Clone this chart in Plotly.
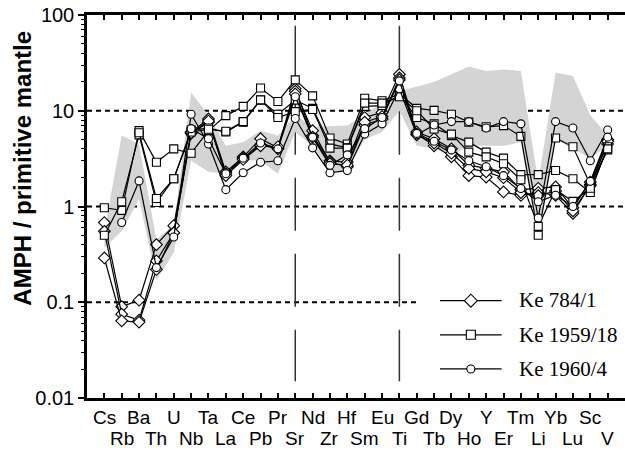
import plotly.graph_objects as go

elements = ["Cs", "Rb", "Ba", "Th", "U", "Nb", "Ta", "La", "Ce", "Pb", "Pr", "Sr", "Nd", "Zr", "Hf",
            "Sm", "Eu", "Ti", "Gd", "Tb", "Dy", "Ho", "Y", "Er", "Tm", "Li", "Yb", "Lu", "Sc", "V"]

# grey field (envelope)
field_upper = [0.55, 5.5, 4.5, 0.45, 0.65, 15.5, 9.0, 4.3, 4.7, 6.2, 5.5, 9.0, 6.8, 6.9, 7.0,
               9.2, 12.0, 16.0, 18.0, 20.0, 24.0, 29.0, 26.0, 27.0, 26.0, 1.8, 25.0, 23.0, 9.0, 5.5]
field_lower = [0.37, 0.55, 1.2, 0.17, 0.33, 3.0, 2.3, 2.2, 3.1, 3.0, 2.2, 6.0, 4.3, 2.3, 2.4,
               5.0, 6.0, 10.0, 4.3, 4.0, 3.4, 4.3, 4.3, 4.3, 4.7, 0.43, 5.0, 4.0, 3.2, 4.3]

# Ke 784/1 (diamonds)
ke784_a = [0.68, 0.09, 0.105, 0.40, 0.63, 6.0, 8.2, 2.3, 3.3, 5.1, 4.1, 17, 5.5, 3.0, 2.9,
           8.5, 9.6, 24, 6.0, 5.1, 4.0, 2.7, 2.5, 2.3, 1.5, 1.55, 1.6, 0.97, 1.8, 5.0]
ke784_b = [0.55, 0.075, 0.065, 0.27, 0.53, 5.8, 7.6, 2.2, 3.2, 4.4, 4.0, 16, 6.2, 2.9, 2.6,
           7.1, 8.2, 22, 5.7, 4.3, 3.3, 2.1, 2.03, 1.42, 1.31, 1.4, 1.31, 0.85, 1.7, 4.5]
ke784_c = [0.29, 0.064, 0.062, 0.22, 0.53, 5.9, 7.8, 2.1, 3.1, 4.3, 4.2, 15, 5.3, 2.8, 2.7,
           7.6, 8.7, 21, 5.6, 4.6, 3.6, 2.5, 2.3, 2.0, 1.4, 1.3, 1.45, 0.9, 1.65, 4.8]

# Ke 1959/18 (squares)
ke1959_a = [0.97, 0.91, 6.2, 2.9, 4.0, 3.6, 6.2, 8.9, 11.1, 17.3, 12.5, 21, 14.3, 5.2, 4.5,
            13.5, 12.7, 15, 10.6, 10.1, 9.2, 7.6, 6.8, 7.0, 5.4, 0.50, 5.2, 4.2, 1.7, 3.9]
ke1959_b = [0.5, 1.12, 5.6, 1.1, 1.95, 6.3, 6.6, 6.0, 7.6, 12.9, 9.2, 12.9, 10.6, 4.5, 4.1,
            11.1, 11.3, 14.5, 8.5, 7.3, 5.5, 4.7, 3.7, 3.2, 2.15, 2.15, 2.38, 1.95, 1.4, 4.2]
ke1959_c = [None, None, 5.9, 1.21, 1.95, 6.0, 6.4, 6.1, 7.7, 13.0, 8.5, 9.8, 10.3, 4.07, 4.07,
            12.0, 12.0, 14.0, 10.0, 6.45, 5.7, 3.7, 3.3, 2.8, 1.9, 0.62, 1.5, 1.13, 1.55, 4.0]

# Ke 1960/4 (circles)
ke1960_a = [None, 0.68, 1.85, 0.23, 0.48, 9.2, 4.5, 1.5, 2.25, 2.9, 3.0, 8.3, 4.1, 2.25, 2.38,
            5.7, 7.3, 17, 5.6, 7.1, 7.7, 7.7, 6.6, 7.7, 7.3, 0.76, 7.7, 6.6, 3.0, 6.3]
ke1960_b = [None, None, None, None, None, 6.5, 5.1, 2.2, 3.2, 4.6, 4.0, 14, 5.3, 2.69, 3.46,
            6.5, 8.5, 20.5, 5.8, 4.8, 3.9, 3.0, 2.6, 2.1, 1.54, 1.12, 1.31, 1.0, 1.83, 5.3]

legend_names = ["Ke 784/1", "Ke 1959/18", "Ke 1960/4"]
y_ticks = [0.01, 0.1, 1, 10, 100]
y_ticktext = ["0.01", "0.1", "1", "10", "100"]

xs = list(range(len(elements)))
fig = go.Figure()

# grey field
fig.add_trace(go.Scatter(
    x=xs + xs[::-1], y=field_upper + field_lower[::-1],
    fill="toself", fillcolor="#d4d4d4", line=dict(width=0), mode="lines",
    hoverinfo="skip"))

series = [
    (ke784_a, "diamond", 9), (ke784_b, "diamond", 9), (ke784_c, "diamond", 9),
    (ke1959_a, "square", 8), (ke1959_b, "square", 8), (ke1959_c, "square", 8),
    (ke1960_a, "circle", 8), (ke1960_b, "circle", 8),
]
for vals, sym, sz in series:
    fig.add_trace(go.Scatter(
        x=xs, y=vals, mode="lines+markers",
        line=dict(color="black", width=1.2),
        marker=dict(symbol=sym, size=sz, color="white", line=dict(color="black", width=1.1)),
        connectgaps=False))

# legend drawn in its own small invisible subplot
leg_syms = [("diamond", 10), ("square", 9), ("circle", 8)]
leg_rows = [0.83, 0.5, 0.17]
for (sym, sz), yy in zip(leg_syms, leg_rows):
    fig.add_trace(go.Scatter(x=[0, 1], y=[yy, yy], mode="lines", line=dict(color="black", width=1.2),
                             xaxis="x2", yaxis="y2", hoverinfo="skip"))
    fig.add_trace(go.Scatter(x=[0.5], y=[yy], mode="markers",
                             marker=dict(symbol=sym, size=sz, color="white", line=dict(color="black", width=1.1)),
                             xaxis="x2", yaxis="y2", hoverinfo="skip"))

# reference lines
i_sr = elements.index("Sr")
i_ti = elements.index("Ti")
shapes = []
for yv, x1 in [(10, 30), (1, 30), (0.1, 18.1)]:
    shapes.append(dict(type="line", xref="x", yref="y", x0=-1, x1=x1, y0=yv, y1=yv,
                       line=dict(color="black", width=2, dash="5px,4px"), layer="below"))
for xi in [i_sr, i_ti]:
    shapes.append(dict(type="line", xref="x", yref="y", x0=xi, x1=xi, y0=77, y1=0.015,
                       line=dict(color="#333333", width=1.5, dash="53px,23px"), layer="below"))

annotations = []
# two-row element labels
for i, el in enumerate(elements):
    annotations.append(dict(x=i, xref="x", y=(-0.052 if i % 2 == 0 else -0.106), yref="paper",
                            text=el, showarrow=False, xanchor="center", yanchor="middle",
                            font=dict(family="Liberation Sans", size=19, color="black")))
# legend texts
for name, yy in zip(legend_names, [0.256, 0.165, 0.076]):
    annotations.append(dict(x=0.799, xref="paper", y=yy, yref="paper", text=name, showarrow=False,
                            xanchor="left", yanchor="middle",
                            font=dict(family="Liberation Serif", size=21, color="black")))
# y title
annotations.append(dict(x=-0.12, xref="paper", y=0.60, yref="paper", text="<b>AMPH / primitive mantle</b>",
                        textangle=-90, showarrow=False, xanchor="center", yanchor="middle",
                        font=dict(family="Liberation Sans", size=24, color="black")))

minor_vals = [m * 10 ** e for e in range(-2, 2) for m in range(2, 10)]

fig.update_layout(
    width=625, height=455,
    margin=dict(l=87, r=0, t=15, b=57),
    paper_bgcolor="white", plot_bgcolor="rgba(0,0,0,0)",
    showlegend=False, hovermode=False,
    shapes=shapes, annotations=annotations,
    xaxis=dict(range=[-1, 30], tickvals=xs, showticklabels=False, ticks="inside", ticklen=5,
               tickwidth=1.5, tickcolor="black", showline=True, linewidth=2.5, linecolor="black",
               mirror="ticks", showgrid=False, zeroline=False),
    yaxis=dict(type="log", range=[-2, 2], tickmode="array", tickvals=y_ticks, ticktext=y_ticktext,
               ticks="outside", ticklen=6, tickwidth=1.5, tickcolor="black",
               showline=True, linewidth=2.5, linecolor="black", showgrid=False, zeroline=False,
               tickfont=dict(family="Liberation Sans", size=20, color="black"),
               minor=dict(tickvals=minor_vals, ticks="outside", ticklen=3.5, tickwidth=1.2,
                          tickcolor="black", showgrid=False)),
    xaxis2=dict(domain=[0.656, 0.771], range=[0, 1], visible=False, anchor="y2"),
    yaxis2=dict(domain=[0.03, 0.30], range=[0, 1], visible=False, anchor="x2"),
)

fig.write_html("out.html", config={"displayModeBar": False},
               post_script="document.body.style.margin='0px';")
